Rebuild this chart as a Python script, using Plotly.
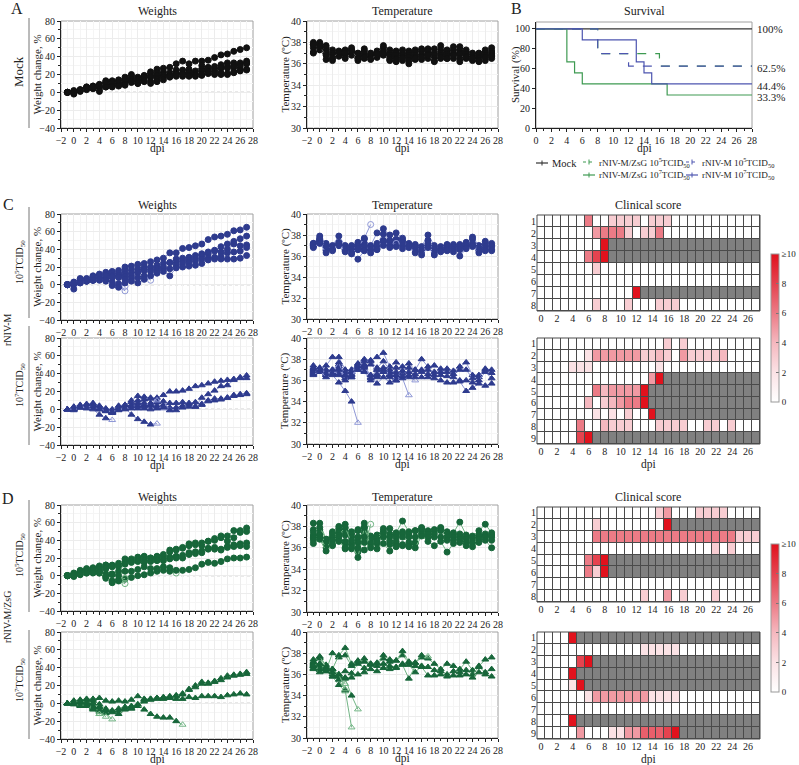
import plotly.graph_objects as go

W, H = 799, 765
SERIF = "Liberation Serif"

days = list(range(-1, 28))          # weight / temperature days
score_days = list(range(0, 28))     # clinical score days

# ---------------- Mock ----------------
mock_weight = [
    [0,1,3,6,7,9,13,13,14,17,20,17,19,23,26,27,28,32,35,32,35,35,36,39,42,43,46,48,50],
    [0,0,2,5,6,8,12,12,13,15,18,16,18,21,22,23,22,25,25,26,24,30,28,29,31,33,33,33,35],
    [0,-1,2,5,6,5,10,10,10,12,14,12,15,18,19,20,19,22,21,23,22,26,27,26,28,29,30,31,33],
    [0,2,3,6,7,7,10,11,11,13,15,14,17,17,16,19,18,21,20,22,20,24,23,24,27,27,28,29,32],
    [0,-2,1,3,4,3,6,7,8,9,11,10,12,12,14,17,18,20,18,19,19,19,21,20,20,20,23,25,26],
    [0,0,2,4,5,1,6,6,7,8,12,10,13,10,12,14,17,18,20,18,18,20,23,21,22,21,22,24,25],
]
mock_temp = [
    [38.0,38.0,37.7,37.3,37.2,37.3,37.5,37.0,37.4,37.0,37.2,37.7,37.3,37.2,37.3,37.2,37.3,37.4,37.4,37.4,37.7,37.3,37.6,37.6,37.3,37.0,37.0,37.3,37.5],
    [37.8,37.8,37.5,37.0,37.0,37.2,37.3,36.9,37.2,36.9,37.0,37.5,37.0,37.0,37.0,37.0,37.1,37.2,37.2,37.0,37.3,37.2,37.3,37.3,37.1,36.8,36.8,37.0,37.2],
    [37.5,37.6,37.2,36.8,36.9,36.9,37.0,36.7,36.9,36.7,36.8,37.2,36.8,36.8,36.8,36.8,36.8,36.9,36.9,36.8,37.0,36.9,37.0,37.0,36.9,36.6,36.6,36.8,37.0],
    [37.0,37.3,37.0,36.6,36.7,36.7,36.8,36.5,36.7,36.6,36.7,37.0,36.6,36.5,36.6,36.6,36.6,36.7,36.7,36.5,36.8,36.7,36.8,36.9,36.7,36.4,36.5,36.6,36.8],
    [37.8,37.4,36.4,36.3,36.8,36.5,37.0,36.3,36.5,36.5,36.6,36.8,36.3,36.2,36.3,36.0,36.4,36.4,36.5,36.3,36.5,36.5,36.5,36.2,36.5,36.3,36.2,36.3,36.5],
    [37.1,37.6,36.8,36.5,37.1,37.0,37.2,36.5,36.6,36.4,36.9,36.9,36.4,36.4,36.5,36.3,36.5,36.6,36.8,36.2,36.6,36.5,36.8,36.5,36.6,36.5,36.3,36.6,36.7],
]

# ---------------- rNIV-M 10^5 TCID50 ----------------
m5_weight = [
    [0,3,7,7,10,12,14,15,16,20,21,23,24,26,28,30,36,36,41,42,44,46,51,54,55,57,61,62,65],
    [0,2,6,6,9,10,12,13,13,16,17,18,20,20,22,24,25,29,30,31,33,35,37,39,43,46,49,52,55],
    [0,1,3,5,5,5,4,1,-2,-7],
    [0,0,2,4,5,6,7,3,1,-2],
    [0,1,4,5,7,8,10,10,11,12,13,14,16,17,18,20,25,26,27,28,30,33,35,38,37,40,46,44,45],
    [0,0,3,4,6,7,8,9,9,9,10,14,17,15,16,18,18,22,24,25,27,29,30,31,32,36,37,38,42],
    [0,2,5,6,8,9,10,8,8,6,7,8,10,5],
    [0,-5,2,4,5,6,5,-1,-3,2,4,2,6,10,13,15,10,19,20,21,22,24,28,29,29,29,29,30,33],
]
m5_temp = [
    [37.2,37.9,37.2,37.0,37.9,37.0,37.0,37.3,37.6,37.0,38.2,38.6,38.0,38.2,37.7,37.2,37.1,36.9,38.0,37.0,36.9,37.1,37.1,37.1,37.3,37.8,37.0,37.4,37.2],
    [37.1,37.7,37.0,36.9,37.3,36.9,36.9,37.1,37.2,36.9,37.2,38.1,37.5,37.6,37.5,37.0,37.0,36.8,37.5,36.8,36.7,37.0,36.9,36.9,37.1,37.6,36.8,37.2,37.0],
    [37.1,37.4,37.0,36.7,37.2,36.6,36.7,36.8,37.7,39.0],
    [37.0,37.6,36.6,36.8,37.0,36.8,36.5,37.0,36.8,36.3],
    [37.0,37.5,36.8,36.8,37.1,36.7,36.6,36.9,37.0,36.8,37.0,37.5,37.3,37.3,37.3,36.9,36.8,36.6,37.2,36.6,36.6,36.8,36.8,36.8,37.0,37.2,36.6,36.9,36.9],
    [36.9,37.3,36.5,36.6,37.0,36.5,36.4,36.6,36.7,36.6,36.7,37.3,37.0,37.1,37.0,36.8,36.5,36.4,37.0,36.3,36.5,36.6,36.6,36.6,36.8,37.0,36.5,36.7,36.6],
    [37.2,37.3,36.9,36.7,37.1,36.6,36.3,36.7,36.9,36.6,36.9,37.4,37.0,37.2],
    [36.8,37.2,36.3,36.5,37.1,36.4,36.2,35.7,36.5,36.3,36.6,37.0,36.8,36.9,36.7,36.9,36.3,36.1,36.8,36.1,36.4,36.5,36.4,36.0,36.7,36.9,36.3,36.5,36.5],
]
m5_score = [
    {6:6, 9:3, 10:3, 11:3, 12:3, 14:3, 15:3, 16:3},
    {7:5, 8:6, 9:6, 10:6, 11:3, 13:3, 14:3, 15:6},
    {8:10},
    {6:6, 7:8, 8:10},
    {7:3},
    {},
    {12:10},
    {7:3, 11:3, 15:3, 16:3, 17:3},
]

# ---------------- rNIV-M 10^7 TCID50 ----------------
m7_weight = [
    [0,3,5,4,5,2,-1,-3,3,5,10,15,14,13,13,16,20,20,21,23,26,27,29,31,32,33,34,35,38],
    [0,2,4,5,6,3,0,-2,1,2,3,5,6,7,8,5,2,2,4,5,3,13,17,21,26,27,33,36,35],
    [0,1,3,4,5,2,-1,-4,0,1,2,3,3,4,2,3,7,7,8,7,8,6,10,12,12,13,15,17,18],
    [0,1,3,3,4,1,-2,-4,1,3,5,7,7,6,8,9,-1],
    [0,1,3,3,4,1,-1,-2,1,2,-6,-11,-14,-17,-16],
    [0,2,4,6,7,4,1,0,4,5,8,10,11,12,10],
    [0,0,2,3,3,0,-1,-3,0,1,3,4,5,5,4,1],
    [0,0,2,2,3,0,-2,-3,-1,0,1,1,1,0,1,2,-1,-1,2,3,3,5,9,10,11,13,16,16,17],
    [0,-1,2,1,0,-6,-10,-12],
]
m7_temp = [
    [37.4,37.0,37.4,38.2,38.2,37.0,37.0,37.6,38.0,37.9,38.2,38.6,37.3,37.7,37.3,37.6,37.0,38.0,37.3,37.4,37.1,37.1,36.9,37.3,37.7,36.5,36.5,37.1,37.0],
    [37.2,37.2,37.0,37.0,37.5,37.0,37.0,37.4,37.8,37.8,37.2,37.8,37.0,37.2,36.9,37.2,37.0,37.0,37.0,36.8,36.8,36.8,36.6,37.0,37.0,36.2,36.3,37.0,36.7],
    [37.0,36.8,36.8,36.8,37.3,36.8,36.8,37.1,37.4,37.5,37.0,37.0,36.8,36.8,36.6,36.8,36.6,36.8,36.6,36.5,36.5,36.4,36.3,36.0,36.0,35.8,36.0,36.8,36.2],
    [36.9,37.1,36.8,36.7,36.7,36.4,36.8,37.5,36.9,36.3,37.0,36.8,36.6,36.5,36.6,36.3,36.0],
    [36.8,37.0,36.5,36.6,37.1,36.2,36.6,37.0,37.3,36.5,35.7,36.3,35.8,36.2,36.4],
    [36.6,37.1,36.7,36.8,37.7,36.0,36.3,37.2,36.8,36.0,36.3,37.2,36.5,36.0,36.3],
    [37.1,36.9,36.5,37.0,36.5,36.5,36.3,37.3,37.5,36.2,36.5,37.0,36.3,36.0,36.2,34.6],
    [36.7,36.8,36.6,36.6,37.0,36.5,36.5,37.0,37.2,36.5,36.6,36.8,36.5,36.5,36.4,36.5,36.3,36.3,36.3,36.2,36.0,35.8,35.8,35.9,35.0,35.3,35.7,35.5,35.7],
    [36.5,36.9,36.3,36.5,35.8,35.0,34.0,32.0],
]
m7_score = [
    {16:3, 18:3},
    {6:2, 7:5, 8:5, 9:5, 10:5, 11:5, 12:5, 13:3, 14:3, 15:4, 16:3, 18:5, 19:3, 20:3, 21:3, 22:3, 23:4},
    {4:2, 5:2, 6:2, 15:2},
    {14:5, 15:10},
    {7:6, 8:4, 9:5, 10:5, 11:5, 12:5, 13:10},
    {6:4, 8:3, 9:4, 10:5, 11:6, 12:6, 13:10},
    {7:2, 9:2, 11:3, 14:10},
    {5:6, 8:4, 9:3, 10:3, 11:3, 15:3, 16:3, 17:3, 18:3, 21:3, 22:3, 24:3},
    {5:8, 6:10},
]

# ---------------- rNIV-M/ZsG 10^5 TCID50 ----------------
z5_weight = [
    [0,3,6,8,9,11,12,12,14,16,19,21,22,20,22,24,29,30,32,36,37,37,39,42,45,45,51,51,54],
    [0,1,2,4,5,3,-3,-7,-5,-4,-2,0,1,3,5,6,5,3],
    [0,2,5,7,8,10,12,11,12,19,17,20,21,20,21,22,27,29,31,34,35,34,39,40,43,39,43,49,50],
    [0,1,4,6,7,8,9,10,10,14,16,18,17,17,18,19,21,22,23,26,27,28,31,32,30,33,35,36,37],
    [0,0,2,3,4,3,-1,-8,-6,-9],
    [0,1,2,4,5,5,2,-6,-5,-3],
    [0,0,3,5,6,7,8,2,5,13,15,16,15,16,17,17,19,20,20,24,25,26,30,30,29,32,33,34,33],
    [0,-1,1,3,3,4,-1,1,0,5,5,7,10,8,8,10,9,6,6,7,9,13,15,14,16,19,20,20,21],
]
z5_temp = [
    [38.3,38.3,36.8,37.5,38.0,38.2,37.5,37.7,38.3,37.1,37.2,37.8,37.8,37.4,38.5,37.5,37.6,37.9,37.6,37.7,37.9,37.5,37.4,38.4,37.2,37.1,37.6,38.2,37.4],
    [37.0,37.3,36.6,36.8,37.3,35.9,35.9,36.7,37.2,36.3,36.4,37.1,36.3,36.4,36.3,36.2,36.5,37.5],
    [37.7,37.7,36.5,37.3,37.8,37.6,37.3,37.6,37.9,36.9,37.0,37.6,37.3,37.2,37.5,37.3,37.6,37.8,37.5,37.6,37.8,37.3,37.2,37.3,37.0,36.9,37.2,37.3,37.2],
    [37.2,37.1,36.3,37.0,37.5,37.2,37.0,37.0,37.5,36.7,36.8,37.4,37.0,37.0,37.3,37.0,37.0,37.6,37.3,37.3,37.6,37.0,37.0,37.0,36.8,36.6,37.0,37.1,37.0],
    [37.5,37.9,36.8,36.9,37.2,37.9,36.5,35.6,35.8,38.2],
    [36.9,37.2,36.5,36.2,36.8,36.3,36.3,35.1,37.9,36.2],
    [36.7,37.0,36.0,36.7,37.0,36.6,36.7,36.5,37.0,36.4,36.6,37.0,36.6,36.6,37.0,36.5,36.4,37.3,37.0,37.0,37.0,36.7,36.7,36.8,36.5,36.4,36.8,37.0,36.7],
    [36.4,36.8,35.7,36.3,36.6,36.0,36.0,36.0,36.5,36.0,35.9,36.4,35.7,36.1,36.2,36.1,36.0,37.1,36.6,36.2,36.6,35.6,36.4,36.5,36.2,36.1,36.5,36.7,36.0],
]
z5_score = [
    {15:3, 16:5, 20:3, 21:3, 22:3, 23:3},
    {7:3, 16:10},
    {7:6, 8:6, 9:6, 10:6, 11:6, 12:6, 13:6, 14:6, 15:6, 16:6, 17:6, 18:6, 19:6, 20:6, 21:6, 22:6, 23:6, 24:6, 25:3, 26:3, 27:3},
    {22:3, 24:3},
    {6:6, 7:8, 8:10},
    {6:6, 7:3, 8:10},
    {},
    {13:3, 16:5, 18:3, 22:3},
]

# ---------------- rNIV-M/ZsG 10^7 TCID50 ----------------
z7_weight = [
    [0,-1,-2,-3,-6,-12],
    [0,2,3,4,3,-1,-6,-9,-9,-6,-5,-2,4,5,6,6,7,9,11,15,20,24,23,25,28,31,32,33,35],
    [0,1,0,1,-3,-7,-11,-18],
    [0,1,0,-1,-4,-10],
    [0,0,-2,-1,-5,-9,-15],
    [0,1,1,2,0,-4,-8,-10,-12,-7,-6,-3,2,4,5,5,6,8,10,16,18,22,22,24,26,29,31,32,33],
    [0,3,4,5,5,6,3,2,3,2,4,8,5,5,6,7,8,5,5,7,6,8,8,8,7,9,10,11,10],
    [0,-1,-3,-2,-7,-12],
    [0,1,2,1,0,-4,-7,-8,-6,-4,-3,-1,-7,-12,-15,-16,-16,-20,-24],
]
z7_temp = [
    [37.0,36.8,36.6,35.8,35.0,34.4],
    [37.1,37.5,36.4,38.0,37.6,37.8,36.8,37.3,37.2,36.9,37.0,37.5,37.2,37.3,37.8,37.1,37.1,37.6,37.5,37.0,36.5,37.0,36.8,36.5,37.2,36.4,36.8,37.4,37.6],
    [37.2,37.6,36.9,36.2,35.9,35.6,34.0,32.7],
    [36.6,36.4,36.3,36.0,35.8,35.1],
    [36.9,36.5,36.7,35.8,35.5,34.5,31.0],
    [36.8,37.0,36.5,36.5,36.0,36.3,36.1,37.0,36.6,37.0,36.8,37.0,36.8,36.7,37.0,36.9,36.2,36.8,36.7,36.4,36.3,36.0,36.3,36.2,36.4,36.0,36.7,36.2,36.5],
    [36.5,36.2,36.3,36.2,35.8,35.7,35.7,36.0,36.2,36.5,36.3,36.6,36.5,36.6,36.9,35.6,36.8,36.7,35.9,35.9,36.0,35.8,35.9,35.9,36.0,35.7,36.2,36.0,35.8],
    [36.8,37.0,36.5,36.5,36.0,34.6],
    [37.4,37.7,36.7,36.5,37.8,38.5,37.0,37.2,37.5,37.0,37.1,37.8,37.4,37.3,38.2,37.2,37.1,37.8,37.7],
]
z7_score = [
    {4:10},
    {13:2, 14:2, 15:2, 16:2, 17:2},
    {5:8, 6:10},
    {4:10},
    {4:2, 5:10},
    {6:2, 7:5, 8:5, 9:5, 10:5, 11:5, 12:5, 13:5, 14:2, 15:2, 16:2, 17:2},
    {},
    {4:10},
    {5:5, 9:2, 10:2, 11:5, 12:5, 13:7, 14:7, 15:7, 16:8, 17:10},
]

score_ticks = [0, 2, 4, 6, 8, 10]
score_tick_text = ["0", "2", "4", "6", "8", "≥10"]

# ---------------- styling ----------------
MOCK_M, MOCK_L = "#111111", "#555555"
BLUE_M, BLUE_L = "#2e3b8e", "#8f98d6"
GREEN_M, GREEN_L = "#17663a", "#72b585"
SURV_MOCK, SURV_GREEN, SURV_BLUE = "#333333", "#3e9a52", "#4d55b0"
TICKF = dict(size=10)

fig = go.Figure()
layout = dict(width=W, height=H, margin=dict(l=0, r=0, t=0, b=0, autoexpand=False),
              paper_bgcolor="white", plot_bgcolor="white",
              font=dict(family=SERIF, size=11, color="#222"), showlegend=False)
shapes, annotations = [], []


def names(k):
    s = "" if k == 1 else str(k)
    return "xaxis" + s, "yaxis" + s, "x" + s, "y" + s


def xdom(a, b):
    return [a / W, b / W]


def ydom(t, b):
    return [1 - b / H, 1 - t / H]


def frame(k):
    _, _, xr, yr = names(k)
    shapes.append(dict(type="rect", xref=xr + " domain", yref=yr + " domain",
                       x0=0, x1=1, y0=0, y1=1, line=dict(color="#a0a0a0", width=1),
                       layer="below"))


def base_axis():
    return dict(showline=True, linecolor="#222", linewidth=1, ticks="outside",
                ticklen=3, tickcolor="#222", showgrid=True, gridcolor="#ececec",
                zeroline=False, tickfont=TICKF, tickmode="linear", automargin=False)


def ytitle_ann(text, xc, yd):
    annotations.append(dict(text=text, x=xc / W, y=(yd[0] + yd[1]) / 2, xref="paper",
                            yref="paper", showarrow=False, textangle=-90,
                            font=dict(size=11), xanchor="center", yanchor="middle"))


def xtitle_ann(text, xd, yd):
    if text:
        annotations.append(dict(text=text, x=(xd[0] + xd[1]) / 2, y=yd[0] - 13 / H,
                                xref="paper", yref="paper", showarrow=False,
                                font=dict(size=11.5), xanchor="center", yanchor="top",
                                borderpad=0))


def line_panel(k, xd, yd, yrange, ydtick, yminor, ytitle, ytx, xtitle, xrange=(-2, 28)):
    xa, ya, xr, yr = names(k)
    ax = base_axis()
    ax.update(domain=xd, anchor=yr, range=list(xrange), tick0=xrange[0], dtick=2,
              tickangle=0,
              minor=dict(dtick=1, ticks="outside", ticklen=2, tickcolor="#222",
                         showgrid=True, gridcolor="#f5f5f5"))
    ay = base_axis()
    ay.update(domain=yd, anchor=xr, range=list(yrange), tick0=yrange[0], dtick=ydtick,
              minor=dict(dtick=yminor, ticks="outside", ticklen=2, tickcolor="#222",
                         showgrid=True, gridcolor="#f5f5f5"))
    layout[xa] = ax
    layout[ya] = ay
    ytitle_ann(ytitle, ytx, yd)
    xtitle_ann(xtitle, xd, yd)
    frame(k)


def add_animals(k, data, symbol, mcol, lcol):
    _, _, xr, yr = names(k)
    for vals in data:
        n = len(vals)
        sym = [symbol] * n
        col = [mcol] * n
        if n < len(days):
            sym[-1] = symbol + "-open"
            col[-1] = lcol
        fig.add_trace(go.Scatter(
            x=days[:n], y=vals, mode="lines+markers", xaxis=xr, yaxis=yr,
            line=dict(color=lcol, width=1),
            marker=dict(symbol=sym, color=col, size=6, line=dict(color=col, width=1)),
            showlegend=False, hoverinfo="skip"))


def zero_line(k):
    _, _, xr, yr = names(k)
    shapes.append(dict(type="line", xref=xr + " domain", yref=yr, x0=0, x1=1, y0=0, y1=0,
                       line=dict(color="#777", width=1, dash="dot"), layer="below"))


def heat_panel(k, xd, yd, weights, scores, cax, xtitle):
    xa, ya, xr, yr = names(k)
    n = len(weights)
    z, g = [], []
    for w, sc in zip(weights, scores):
        last = days[len(w) - 1] if len(w) < len(days) else None
        row, grow = [], []
        for d in score_days:
            if last is not None and d > last:
                row.append(None)
                grow.append(1)
            else:
                row.append(sc.get(d, 0))
                grow.append(None)
        z.append(row)
        g.append(grow)
    rows = list(range(1, n + 1))
    fig.add_trace(go.Heatmap(x=score_days, y=rows, z=z, coloraxis=cax, xgap=1, ygap=1,
                             xaxis=xr, yaxis=yr, hoverinfo="skip"))
    fig.add_trace(go.Heatmap(x=score_days, y=rows, z=g, zmin=0, zmax=1,
                             colorscale=[[0, "#808080"], [1, "#808080"]], showscale=False,
                             xgap=1, ygap=1, xaxis=xr, yaxis=yr, hoverinfo="skip"))
    layout[xa] = dict(domain=xd, anchor=yr, range=[-0.5, 27.5], tickmode="array",
                      tickvals=score_days[::2], showline=False, showgrid=False,
                      zeroline=False, ticks="", tickfont=TICKF, tickangle=0,
                      automargin=False)
    layout[ya] = dict(domain=yd, anchor=xr, range=[n + 0.5, 0.5], tickmode="array",
                      tickvals=rows, showline=False, showgrid=False, zeroline=False,
                      ticks="", tickfont=TICKF, automargin=False)
    xtitle_ann(xtitle, xd, yd)
    shapes.append(dict(type="rect", xref=xr + " domain", yref=yr + " domain",
                       x0=0, x1=1, y0=0, y1=1, fillcolor="#4a4a4a",
                       line=dict(width=0), layer="below"))
    shapes.append(dict(type="rect", xref=xr + " domain", yref=yr + " domain",
                       x0=0, x1=1, y0=0, y1=1, line=dict(color="#4a4a4a", width=1),
                       layer="above"))


WX = xdom(61, 253)
TX = xdom(307, 498)
HX = xdom(537, 760)
W_YT, T_YT = 37, 285

# Row A
line_panel(1, WX, ydom(21, 128), (-40, 80), 20, 10, "Weight change, %", W_YT, "dpi")
add_animals(1, mock_weight, "circle", MOCK_M, MOCK_L)
zero_line(1)
line_panel(2, TX, ydom(21, 128), (30, 40), 2, 1, "Temperature (ºC)", T_YT, "dpi")
add_animals(2, mock_temp, "circle", MOCK_M, MOCK_L)

# Survival (B)
line_panel(3, xdom(536, 752), ydom(22, 128), (0, 107), 20, 10, "Survival (%)", 516, "dpi", xrange=(0, 28))
layout["yaxis3"]["minor"] = dict(showgrid=False)
layout["xaxis3"]["minor"] = dict(showgrid=False, ticks="outside", ticklen=2, dtick=1)
layout["xaxis3"]["showgrid"] = False
layout["yaxis3"]["showgrid"] = False


def km(group):
    n = len(group)
    deaths = [days[len(a) - 1] for a in group if len(a) < len(days)]
    t, s = [0], [100.0]
    alive = n
    for d in sorted(set(deaths)):
        alive -= deaths.count(d)
        t.append(d)
        s.append(100.0 * alive / n)
    t.append(28)
    s.append(s[-1])
    return t, s


# name, data, colour, dash, legend key position (px: x of symbol, y)
surv_groups = [
    ("Mock", mock_weight, SURV_MOCK, "solid", (536, 163)),
    ("rNIV-M/ZsG 10<sup>5</sup>TCID<sub>50</sub>", z5_weight, SURV_GREEN, "dash", (583, 162)),
    ("rNIV-M 10<sup>5</sup>TCID<sub>50</sub>", m5_weight, SURV_BLUE, "dash", (686, 162)),
    ("rNIV-M/ZsG 10<sup>7</sup>TCID<sub>50</sub>", z7_weight, SURV_GREEN, "solid", (583, 175)),
    ("rNIV-M 10<sup>7</sup>TCID<sub>50</sub>", m7_weight, SURV_BLUE, "solid", (686, 175)),
]
finals = []
for name, grp, col, dash, (lx, ly) in surv_groups:
    t, s = km(grp)
    fig.add_trace(go.Scatter(x=t, y=s, mode="lines", line=dict(color=col, width=1.2, dash=dash, shape="hv"),
                             name=name, xaxis="x3", yaxis="y3", hoverinfo="skip"))
    if s[-1] not in finals:
        finals.append(s[-1])
    # legend key
    seg = 12
    shapes.append(dict(type="line", xref="paper", yref="paper", x0=lx / W, x1=(lx + seg) / W,
                       y0=1 - ly / H, y1=1 - ly / H,
                       line=dict(color=col, width=1.2, dash="dot" if dash == "dash" else "solid")))
    shapes.append(dict(type="line", xref="paper", yref="paper", x0=(lx + seg / 2) / W,
                       x1=(lx + seg / 2) / W, y0=1 - (ly - 2.5) / H, y1=1 - (ly + 2.5) / H,
                       line=dict(color=col, width=1)))
    annotations.append(dict(text=name, x=(lx + seg + 2) / W, y=1 - ly / H, xref="paper",
                            yref="paper", xanchor="left", yanchor="middle", showarrow=False,
                            font=dict(size=10.5 if name == "Mock" else 9.2)))
for v in finals:
    txt = "100%" if v == 100 else f"{v:.1f}%"
    annotations.append(dict(text=txt, x=28, y=v, xref="x3", yref="y3", xanchor="left",
                            yanchor="middle", xshift=3, yshift=-2 if v < 100 else 0,
                            showarrow=False, font=dict(size=11)))

# Row C
line_panel(4, WX, ydom(214, 320), (-40, 80), 20, 10, "Weight change, %", W_YT, "")
add_animals(4, m5_weight, "circle", BLUE_M, BLUE_L)
zero_line(4)
line_panel(5, TX, ydom(214, 319), (30, 40), 2, 1, "Temperature (ºC)", T_YT, "")
add_animals(5, m5_temp, "circle", BLUE_M, BLUE_L)
heat_panel(6, HX, ydom(215, 311), m5_weight, m5_score, "coloraxis", "")

line_panel(7, WX, ydom(338, 445), (-40, 80), 20, 10, "Weight change, %", W_YT, "dpi")
add_animals(7, m7_weight, "triangle-up", BLUE_M, BLUE_L)
zero_line(7)
line_panel(8, TX, ydom(338, 444), (30, 40), 2, 1, "Temperature (ºC)", T_YT, "dpi")
add_animals(8, m7_temp, "triangle-up", BLUE_M, BLUE_L)
heat_panel(9, HX, ydom(338, 444), m7_weight, m7_score, "coloraxis", "dpi")

# Row D
line_panel(10, WX, ydom(505, 611), (-40, 80), 20, 10, "Weight change, %", W_YT, "")
add_animals(10, z5_weight, "circle", GREEN_M, GREEN_L)
zero_line(10)
line_panel(11, TX, ydom(505, 612), (30, 40), 2, 1, "Temperature (ºC)", T_YT, "")
add_animals(11, z5_temp, "circle", GREEN_M, GREEN_L)
heat_panel(12, HX, ydom(507, 602), z5_weight, z5_score, "coloraxis2", "")

line_panel(13, WX, ydom(632, 739), (-40, 80), 20, 10, "Weight change, %", W_YT, "dpi")
add_animals(13, z7_weight, "triangle-up", GREEN_M, GREEN_L)
zero_line(13)
line_panel(14, TX, ydom(632, 738), (30, 40), 2, 1, "Temperature (ºC)", T_YT, "dpi")
add_animals(14, z7_temp, "triangle-up", GREEN_M, GREEN_L)
heat_panel(15, HX, ydom(632, 739), z7_weight, z7_score, "coloraxis2", "dpi")

cscale = [[0, "#ffffff"], [0.2, "#fbe2e5"], [0.4, "#f5b8bf"], [0.6, "#ec7b86"],
          [0.8, "#e5434f"], [1, "#e1121d"]]


def cbar(center, length):
    return dict(x=771 / W, xanchor="left", y=1 - center / H, yanchor="middle",
                len=length / H, lenmode="fraction", thickness=8, outlinecolor="#999",
                outlinewidth=1, tickmode="array", tickvals=score_ticks, xpad=0, ypad=0,
                ticktext=score_tick_text, ticks="inside", ticklen=3, tickcolor="#777",
                tickfont=dict(size=9))


layout["coloraxis"] = dict(cmin=0, cmax=10, colorscale=cscale, colorbar=cbar(328, 148))
layout["coloraxis2"] = dict(cmin=0, cmax=10, colorscale=cscale, colorbar=cbar(618, 148))

# Titles
def title(text, xc, yc, size=12):
    annotations.append(dict(text=text, x=xc / W, y=1 - yc / H, xref="paper", yref="paper",
                            showarrow=False, font=dict(size=size), xanchor="center",
                            yanchor="middle"))


for yc in (11, 205, 497):
    title("Weights", 157, yc)
    title("Temperature", 402, yc)
title("Survival", 644, 11)
title("Clinical score", 648, 205)
title("Clinical score", 648, 497)

# Panel letters
for letter, xc, yc in (("A", 17, 9), ("B", 516, 9), ("C", 8, 205), ("D", 8, 498)):
    title(letter, xc, yc, size=16)

# Group labels on the left
def side(text, xc, yc, size=11):
    annotations.append(dict(text=text, x=xc / W, y=1 - yc / H, xref="paper", yref="paper",
                            showarrow=False, textangle=-90, font=dict(size=size),
                            xanchor="center", yanchor="middle"))


def vline(x, y0, y1):
    shapes.append(dict(type="line", xref="paper", yref="paper", x0=x / W, x1=x / W,
                       y0=1 - y0 / H, y1=1 - y1 / H, line=dict(color="#777", width=1)))


side("Mock", 18, 72, 13)
vline(29, 18, 128)
side("10<sup>5</sup>TCID<sub>50</sub>", 20, 262, 10)
vline(29, 207, 318)
side("rNIV-M", 7, 330, 10)
side("10<sup>7</sup>TCID<sub>50</sub>", 20, 385, 10)
vline(29, 326, 445)
side("10<sup>5</sup>TCID<sub>50</sub>", 20, 555, 10)
vline(29, 500, 612)
side("rNIV-M/ZsG", 7, 617, 10)
side("10<sup>7</sup>TCID<sub>50</sub>", 20, 680, 10)
vline(29, 630, 739)

layout["shapes"] = shapes
layout["annotations"] = annotations
fig.update_layout(**layout)
fig.write_html("out.html", config={"displayModeBar": False},
               post_script="document.body.style.margin='0px';document.body.style.padding='0px';")
